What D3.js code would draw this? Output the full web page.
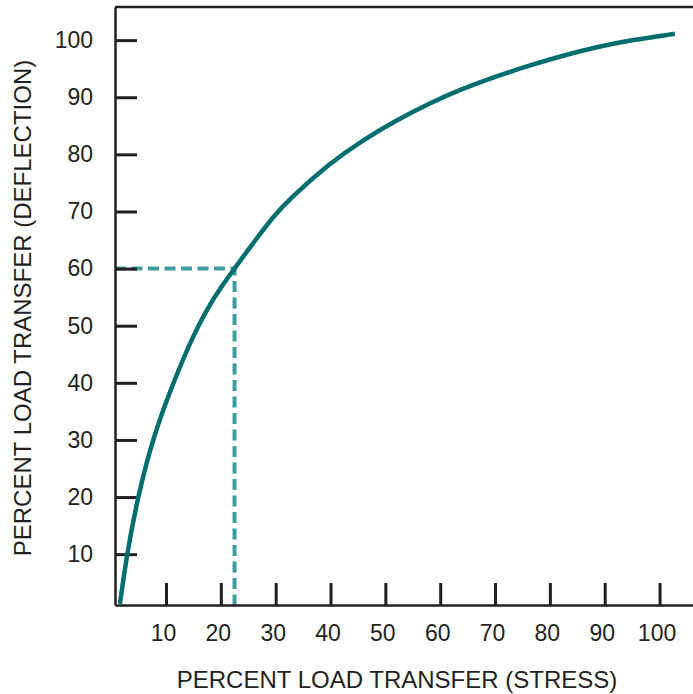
<!DOCTYPE html>
<html>
<head>
<meta charset="utf-8">
<script src="https://cdn.jsdelivr.net/npm/d3@7"></script>
<style>
  html, body { margin: 0; padding: 0; background: #fff; }
  svg { display: block; }
  text { font-family: "Liberation Sans", Arial, Helvetica, sans-serif; fill: #231f20; }
</style>
</head>
<body>
<svg id="chart" width="693" height="694"></svg>
<script>
// ---- data ----
const xTickValues = [10, 20, 30, 40, 50, 60, 70, 80, 90, 100];
const yTickValues = [10, 20, 30, 40, 50, 60, 70, 80, 90, 100];
const xExtent = [0.7, 106.1];   // visible stress range of the frame
const yExtent = [1.1, 105.8];   // visible deflection range of the frame
const stressPct = [1.6, 2.8, 4.8, 7.6, 11.3, 15.0, 17.6, 20.0, 22.4, 25.0, 27.1, 29.6, 32.3, 39.9, 45.9, 52.1, 58.1, 64.1, 70.3, 76.4, 82.4, 88.6, 94.6, 102.8];
const deflectionPct = [1.3, 9.6, 19.8, 30.4, 40.0, 48.4, 53.1, 56.7, 59.9, 63.3, 66.0, 69.1, 72.0, 78.5, 82.5, 86.0, 89.0, 91.5, 93.7, 95.6, 97.3, 98.8, 100.0, 101.1];
const markStress = 22.5;
const markDeflection = 60;
const xTitle = "PERCENT LOAD TRANSFER (STRESS)";
const yTitle = "PERCENT LOAD TRANSFER (DEFLECTION)";

// ---- layout ----
const W = 693, H = 694;
const margin = { left: 115, right: 0, top: 7, bottom: 89 };
const ink = "#231f20";
const svg = d3.select("#chart");

const x = d3.scaleLinear().domain(xExtent).range([margin.left, W - margin.right]);
const y = d3.scaleLinear().domain(yExtent).range([H - margin.bottom, margin.top]);

// top border
svg.append("line")
  .attr("x1", x(xExtent[0])).attr("x2", x(xExtent[1]))
  .attr("y1", y(yExtent[1])).attr("y2", y(yExtent[1]))
  .attr("stroke", ink).attr("stroke-width", 2.5);

// dashed guide
svg.append("path")
  .attr("d", d3.line()([
    [x(xExtent[0]), y(markDeflection)],
    [x(markStress), y(markDeflection)],
    [x(markStress), y(yExtent[0])]
  ]))
  .attr("fill", "none")
  .attr("stroke", "#3f9c9c")
  .attr("stroke-width", 4)
  .attr("stroke-dasharray", "11,5.5");

// axes
const yAxis = svg.append("g")
  .attr("transform", `translate(${margin.left},0)`)
  .call(d3.axisLeft(y).tickValues(yTickValues).tickSizeInner(-22).tickSizeOuter(0).tickPadding(22));
const xAxis = svg.append("g")
  .attr("transform", `translate(0,${H - margin.bottom})`)
  .call(d3.axisBottom(x).tickValues(xTickValues).tickSizeInner(-22).tickSizeOuter(0).tickPadding(20));

[xAxis, yAxis].forEach(g => {
  g.select(".domain").attr("stroke", ink).attr("stroke-width", 2.5);
  g.selectAll(".tick line").attr("stroke", ink).attr("stroke-width", 3);
  g.selectAll(".tick text")
    .attr("fill", ink)
    .style("font-family", '"Liberation Sans", Arial, sans-serif')
    .style("font-size", "23px");
});
xAxis.selectAll(".tick text").attr("dx", "-3");

// curve
svg.append("path")
  .datum(stressPct.map((s, i) => [s, deflectionPct[i]]))
  .attr("fill", "none")
  .attr("stroke", "#006e6e")
  .attr("stroke-width", 4.5)
  .attr("d", d3.line().x(d => x(d[0])).y(d => y(d[1])).curve(d3.curveBasis));

// titles
svg.append("text")
  .attr("x", 397).attr("y", 688)
  .attr("text-anchor", "middle")
  .style("font-size", "24px")
  .text(xTitle);

svg.append("text")
  .attr("transform", "translate(31,308) rotate(-90)")
  .attr("text-anchor", "middle")
  .style("font-size", "24px")
  .text(yTitle);
</script>
</body>
</html>
